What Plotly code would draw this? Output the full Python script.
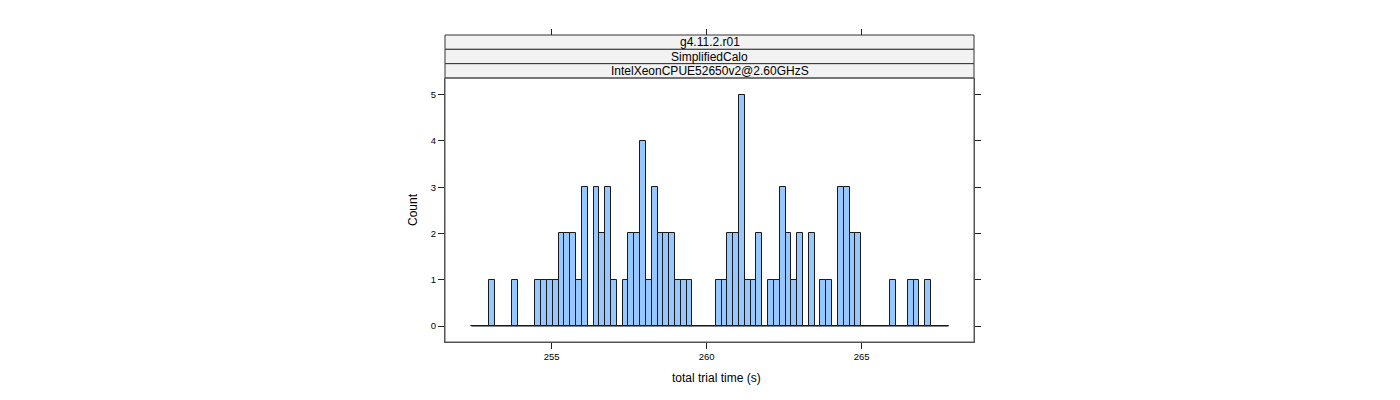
import plotly.graph_objects as go

# Histogram data
bin_start = 252.406
bin_width = 0.18774
counts = [0, 0, 0, 1, 0, 0, 0, 1, 0, 0,
          0, 1, 1, 1, 1, 2, 2, 2, 1, 3,
          0, 3, 2, 3, 1, 0, 1, 2, 2, 4,
          1, 3, 2, 2, 2, 1, 1, 1, 0, 0,
          0, 0, 1, 1, 2, 2, 5, 1, 1, 2,
          0, 1, 1, 3, 2, 1, 2, 0, 2, 0,
          1, 1, 0, 3, 3, 2, 2, 0, 0, 0,
          0, 0, 1, 0, 0, 1, 1, 0, 1, 0,
          0, 0]
x_ticks = [255, 260, 265]
y_ticks = [0, 1, 2, 3, 4, 5]
strip_labels = ["g4.11.2.r01", "SimplifiedCalo", "IntelXeonCPUE52650v2@2.60GHzS"]
x_title = "total trial time (s)"
y_title = "Count"

edges = [bin_start + i * bin_width for i in range(len(counts) + 1)]
centers = [(edges[i] + edges[i + 1]) / 2 for i in range(len(counts))]

W, H = 1400, 400
left, right, top, bottom = 445, 974, 35, 342
panel_top = 78
xr = [260 - (706.7 - left) / 31.0, 260 + (right - 706.7) / 31.0]
yr = [-0.345, 5.36]
dom_top = (bottom - panel_top) / (bottom - top)

font = "Liberation Sans, Arial, sans-serif"
fig = go.Figure()
fig.add_trace(go.Bar(
    x=centers, y=counts, width=bin_width,
    marker=dict(color="#96C8FF", line=dict(color="#1a1a1a", width=1)),
    showlegend=False, hoverinfo="x+y",
))
fig.add_trace(go.Scatter(
    x=[edges[0], edges[-1]], y=[0, 0], mode="lines",
    line=dict(color="#1a1a1a", width=1), showlegend=False,
    xaxis="x2", yaxis="y", hoverinfo="skip",
))

fig.update_layout(
    width=W, height=H,
    margin=dict(l=left, r=W - right, t=top, b=H - bottom, pad=0),
    paper_bgcolor="white", plot_bgcolor="white",
    font=dict(family=font, color="black", size=12),
    xaxis=dict(range=xr, domain=[0, 1], anchor="y", tickmode="array",
               tickvals=x_ticks, ticktext=[str(v) for v in x_ticks],
               ticks="outside", ticklen=6, tickcolor="#222", tickwidth=1,
               showline=True, linecolor="#555", linewidth=1, mirror=False,
               showgrid=False, zeroline=False, tickfont=dict(size=9.5)),
    xaxis2=dict(range=xr, overlaying="x", anchor="free", position=1, side="top",
                tickmode="array", tickvals=x_ticks, showticklabels=False,
                ticks="outside", ticklen=6, tickcolor="#222", tickwidth=1,
                showline=False, showgrid=False, zeroline=False),
    yaxis=dict(range=yr, domain=[0, dom_top], tickmode="array", tickvals=y_ticks,
               ticktext=[str(v) for v in y_ticks], ticks="outside", ticklen=6,
               tickcolor="#222", tickwidth=1, showline=True, linecolor="#555",
               linewidth=1, mirror="ticks", showgrid=False, zeroline=False,
               tickfont=dict(size=9.5)),
    bargap=0,
)

# Panel border
fig.add_shape(type="rect", xref="x domain", yref="y domain", x0=0, x1=1, y0=0, y1=1,
              line=dict(color="#555", width=1), fillcolor="rgba(0,0,0,0)", layer="above")

# Strips
n = len(strip_labels)
sh = (1 - dom_top) / n
for i, lab in enumerate(strip_labels):
    y1 = 1 - i * sh
    y0 = y1 - sh
    fig.add_shape(type="rect", xref="paper", yref="paper", x0=0, x1=1, y0=y0, y1=y1,
                  line=dict(color="#333", width=1), fillcolor="#F2F2F2", layer="below")
    fig.add_annotation(text=lab, xref="paper", yref="paper", x=0.5, y=(y0 + y1) / 2,
                       showarrow=False, font=dict(size=12, family=font),
                       xanchor="center", yanchor="middle")

# Axis titles
fig.add_annotation(text=x_title, xref="paper", yref="paper",
                   x=(716 - left) / (right - left), y=(bottom - 378) / (bottom - top),
                   showarrow=False, font=dict(size=12, family=font),
                   xanchor="center", yanchor="middle")
fig.add_annotation(text=y_title, xref="paper", yref="paper",
                   x=(413 - left) / (right - left), y=(bottom - 210) / (bottom - top),
                   showarrow=False, textangle=-90, font=dict(size=12, family=font),
                   xanchor="center", yanchor="middle")

fig.write_html("out.html")
